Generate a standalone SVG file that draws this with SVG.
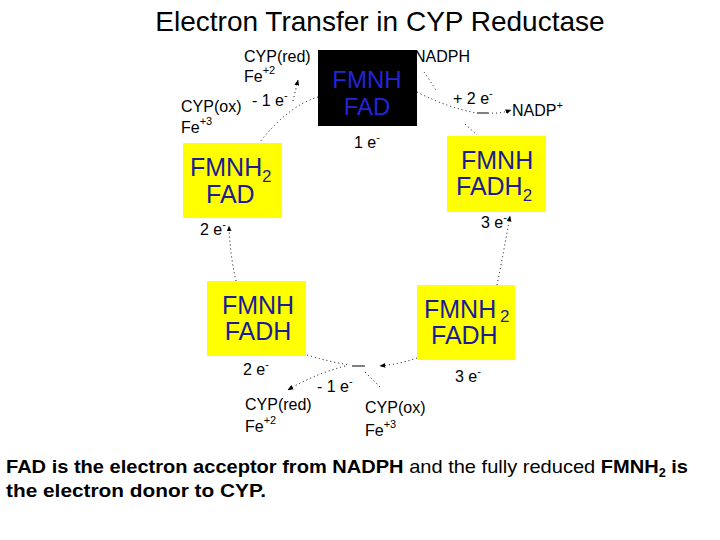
<svg xmlns="http://www.w3.org/2000/svg" width="720" height="540" viewBox="0 0 720 540">
<style>
text{font-family:"Liberation Sans",Arial,sans-serif;fill:#000}
.title{font-size:28px}
.lbl{font-size:16px}
.sup{font-size:11px}
.box{fill:#ffff00}
.bt{font-size:25px;fill:#1c1c96}
.bk{font-size:24px;fill:#2424d8}
.sub{font-size:17px}
.dot{fill:none;stroke:#000;stroke-width:1;stroke-dasharray:1 3}
.sol{fill:none;stroke:#000;stroke-width:1}
.cap{font-size:19px;font-weight:bold}
.n{font-weight:normal}
</style>
<defs>
<marker id="ah" viewBox="0 0 10 10" refX="9" refY="5" markerWidth="6" markerHeight="6" orient="auto-start-reverse" markerUnits="userSpaceOnUse">
<path d="M0,1 L10,5 L0,9 Z" fill="#000"/>
</marker>
</defs>
<rect width="720" height="540" fill="#fff"/>
<text class="title" x="380" y="31" text-anchor="middle">Electron Transfer in CYP Reductase</text>

<g id="connectors">
<path class="dot" d="M318,97 Q288,106 260,142"/>
<path class="dot" d="M293,101 L298,80" marker-end="url(#ah)"/>
<path class="dot" d="M424,72 Q431,82 437,92"/>
<path class="dot" d="M417,92 Q448,108 477,113"/>
<path class="sol" d="M477,113 L488,113"/>
<path class="dot" d="M488,113 Q500,114 511,110" marker-end="url(#ah)"/>
<path class="dot" d="M465,124 L477,135"/>
<path class="dot" d="M497,285 Q504,250 510,216" marker-end="url(#ah)"/>
<path class="dot" d="M236,281 Q230,255 229,226" marker-end="url(#ah)"/>
<path class="dot" d="M417,358 Q400,364 380,366" marker-end="url(#ah)"/>
<path class="sol" d="M352,366 L365,366"/>
<path class="dot" d="M307,355 Q330,362 350,365"/>
<path class="dot" d="M345,366 Q312,375 288,390" marker-end="url(#ah)"/>
<path class="dot" d="M380,387 L363,370"/>
</g>

<g id="node-top">
<rect x="318" y="50" width="99" height="76" fill="#000"/>
<text class="bk" text-anchor="middle"><tspan x="367" y="88">FMNH</tspan><tspan x="367" y="115">FAD</tspan></text>
</g>

<g id="node-left">
<rect class="box" x="183" y="143" width="99" height="75"/>
<text class="bt"><tspan x="190" y="176">FMNH</tspan><tspan class="sub" x="262" y="182">2</tspan><tspan x="206" y="203">FAD</tspan></text>
</g>

<g id="node-right">
<rect class="box" x="447" y="136" width="99" height="76"/>
<text class="bt"><tspan x="461" y="169">FMNH</tspan><tspan x="456" y="195">FADH</tspan><tspan class="sub" dy="6">2</tspan></text>
</g>

<g id="node-bottom-left">
<rect class="box" x="207" y="281" width="99" height="75"/>
<text class="bt" text-anchor="middle"><tspan x="258" y="314">FMNH</tspan><tspan x="258" y="340">FADH</tspan></text>
</g>

<g id="node-bottom-right">
<rect class="box" x="417" y="285" width="98" height="75"/>
<text class="bt"><tspan x="424" y="318">FMNH</tspan><tspan class="sub" x="500" y="322">2</tspan><tspan x="431" y="344">FADH</tspan></text>
</g>

<g id="labels">
<text class="lbl" x="244" y="62">CYP(red)</text>
<text class="lbl" x="244" y="82">Fe<tspan class="sup" dy="-8">+2</tspan></text>
<text class="lbl" x="181" y="112">CYP(ox)</text>
<text class="lbl" x="252" y="106">- 1 e<tspan class="sup" dy="-7">-</tspan></text>
<text class="lbl" x="181" y="133">Fe<tspan class="sup" dy="-8">+3</tspan></text>
<text class="lbl" x="414" y="62">NADPH</text>
<text class="lbl" x="453" y="104">+ 2 e<tspan class="sup" dy="-7">-</tspan></text>
<text class="lbl" x="512" y="116">NADP<tspan class="sup" dy="-7">+</tspan></text>
<text class="lbl" x="354" y="148">1 e<tspan class="sup" dy="-7">-</tspan></text>
<text class="lbl" x="200" y="235">2 e<tspan class="sup" dy="-7">-</tspan></text>
<text class="lbl" x="481" y="228">3 e<tspan class="sup" dy="-7">-</tspan></text>
<text class="lbl" x="243" y="375">2 e<tspan class="sup" dy="-7">-</tspan></text>
<text class="lbl" x="317" y="392">- 1 e<tspan class="sup" dy="-7">-</tspan></text>
<text class="lbl" x="455" y="382">3 e<tspan class="sup" dy="-7">-</tspan></text>
<text class="lbl" x="245" y="410">CYP(red)</text>
<text class="lbl" x="245" y="432">Fe<tspan class="sup" dy="-8">+2</tspan></text>
<text class="lbl" x="365" y="413">CYP(ox)</text>
<text class="lbl" x="365" y="436">Fe<tspan class="sup" dy="-8">+3</tspan></text>
</g>

<g id="caption">
<text class="cap" x="6" y="473" textLength="682" lengthAdjust="spacingAndGlyphs">FAD is the electron acceptor from NADPH <tspan class="n">and the fully reduced</tspan> FMNH<tspan font-size="12" dy="4">2</tspan><tspan dy="-4"> is</tspan></text>
<text class="cap" x="6" y="497" textLength="260" lengthAdjust="spacingAndGlyphs">the electron donor to CYP.</text>
</g>
</svg>
